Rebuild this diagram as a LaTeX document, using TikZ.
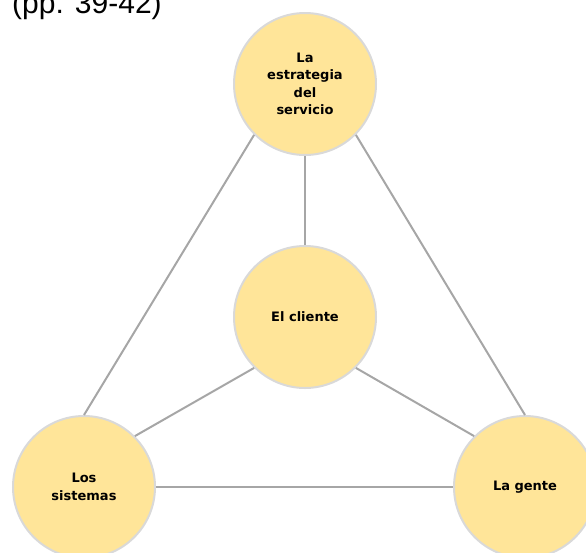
\documentclass[tikz,border=0pt]{standalone}
\usepackage{fontspec}
\setmainfont{Liberation Sans}
\newfontfamily\lblfont{DejaVu Sans}
\usetikzlibrary{positioning}
\definecolor{circfill}{HTML}{FFE599}
\definecolor{circline}{HTML}{D9D9D9}
\definecolor{linkgray}{HTML}{A6A6A6}
\tikzset{
  area/.style={circle,fill=circfill,draw=circline,line width=2pt,minimum size=142pt,inner sep=0pt,align=center,
    font=\lblfont\bfseries\fontsize{13}{17.5}\selectfont},
  link/.style={draw=linkgray,line width=2pt}
}
\begin{document}
\begin{tikzpicture}[x=1pt,y=-1pt]
\useasboundingbox (0,0) rectangle (586,552);
% \draw[help lines] (0,0) grid (586,552);
\node (title) [anchor=base west,inner sep=0pt,font=\fontsize{30}{36}\selectfont] at (12,13) {(pp. 39-42)};
\node (est) [area] at (305,84) {La\\estrategia\\del\\servicio};
\node (cli) [area] at (305,317) {El cliente};
\node (sis) [area] at (84,487) {Los\\sistemas};
\node (gen) [area] at (525,487) {La gente};
%
\path[link] (est.south) edge (cli.north);
\path[link] (est.south west) edge (sis.north);
\path[link] (est.south east) edge (gen.north);
\path[link] (cli.south west) edge (sis.north east);
\path[link] (cli.south east) edge (gen.north west);
\path[link] (sis.east) edge (gen.west);
\end{tikzpicture}
\end{document}
